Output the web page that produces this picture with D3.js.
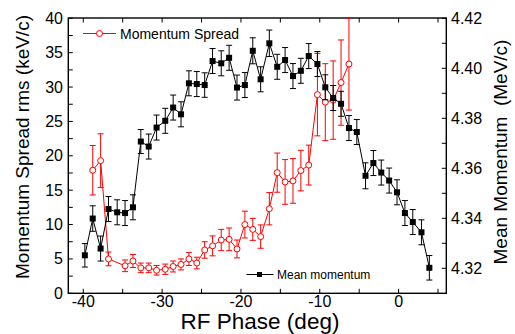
<!DOCTYPE html>
<html>
<head>
<meta charset="utf-8">
<script src="https://cdn.jsdelivr.net/npm/d3@7"></script>
<style>
  body { margin: 0; background: #fff; }
  svg { display: block; font-family: "Liberation Sans", Arial, sans-serif; }
</style>
</head>
<body>
<svg id="s" width="515" height="334"></svg>
<script>
// Data
const phase = [-39.8, -38.8, -37.8, -36.8, -35.7, -34.7, -33.7, -32.7, -31.7, -30.7,
  -29.6, -28.6, -27.6, -26.6, -25.6, -24.6, -23.6, -22.5, -21.5, -20.5,
  -19.5, -18.5, -17.5, -16.4, -15.4, -14.4, -13.4, -12.4, -11.4, -10.3,
  -9.3, -8.3, -7.3, -6.3, -5.3, -4.2, -3.2, -2.2, -1.2, -0.2,
  0.8, 1.8, 2.9, 3.9];
const meanMomentum = [4.3252, 4.3399, 4.3279, 4.3437, 4.3424, 4.3421, 4.3444, 4.3707, 4.3687, 4.3763,
  4.3790, 4.3843, 4.3816, 4.3940, 4.3937, 4.3933, 4.4029, 4.4020, 4.4042, 4.3923,
  4.3933, 4.4070, 4.3956, 4.4100, 4.4006, 4.4033, 4.3969, 4.3990, 4.4049, 4.4017,
  4.3924, 4.3881, 4.3858, 4.3761, 4.3745, 4.3570, 4.3621, 4.3583, 4.3551, 4.3504,
  4.3421, 4.3385, 4.3344, 4.3202];
const meanErr = [0.0047, 0.0051, 0.0050, 0.0050, 0.0050, 0.0050, 0.0050, 0.0048, 0.0050, 0.0050,
  0.0050, 0.0050, 0.0050, 0.0050, 0.0050, 0.0049, 0.0050, 0.0050, 0.0050, 0.0050,
  0.0050, 0.0052, 0.0050, 0.0053, 0.0050, 0.0050, 0.0050, 0.0050, 0.0050, 0.0050,
  0.0050, 0.0050, 0.0050, 0.0050, 0.0050, 0.0052, 0.0050, 0.0050, 0.0050, 0.0050,
  0.0050, 0.0050, 0.0050, 0.0049];
const spread = [null, 17.9, 19.3, 5.0, null, 4.0, 4.7, 3.7, 3.7, 3.35,
  3.5, 3.9, 4.2, 5.0, 4.4, 6.3, 6.9, 7.75, 7.85, 6.45,
  10.0, 9.3, 8.25, 12.3, 17.55, 16.2, 16.35, 17.85, 18.65, 28.9,
  27.8, 28.1, 30.65, 33.35, null, null, null, null, null, null,
  null, null, null, null];
const spreadErr = [null, 3.6, 3.9, 1.0, null, 0.85, 0.95, 0.7, 0.7, 0.7,
  0.75, 0.8, 0.8, 0.95, 0.85, 1.2, 1.45, 1.55, 1.65, 1.3,
  1.95, 1.6, 1.7, 2.35, 2.85, 3.25, 3.25, 2.95, 2.9, 6.0,
  5.6, 5.7, 6.2, 6.7, null, null, null, null, null, null,
  null, null, null, null];
const xTickLabels = [-40, -30, -20, -10, 0];
const leftTickLabels = [0, 5, 10, 15, 20, 25, 30, 35, 40];
const rightTickLabels = ["4.32", "4.34", "4.36", "4.38", "4.40", "4.42"];

const svg = d3.select("#s"),
  red = "#ff0000",
  x = d3.scaleLinear().domain([-41.9, 6.05]).range([68.3, 446.3]),
  yL = d3.scaleLinear().domain([0, 40]).range([293.3, 18.3]),
  yR = d3.scaleLinear().domain([4.31, 4.42]).range([293.3, 18.3]),
  [x0, x1] = x.range(),
  yBot = 293.3, yTop = 18,
  tickLen = 4.5;

const pts = phase.map((p, i) => ({p, m: meanMomentum[i], me: meanErr[i], s: spread[i], se: spreadErr[i]}));
const redPts = pts.filter(d => d.s !== null);

// Ticks (inward, all four sides)
const ticks = svg.append("g").attr("stroke", "#000").attr("stroke-width", 1);
d3.range(-40, 6, 5).forEach(v => {
  ticks.append("line").attr("x1", x(v)).attr("x2", x(v)).attr("y1", yBot).attr("y2", yBot - tickLen);
  ticks.append("line").attr("x1", x(v)).attr("x2", x(v)).attr("y1", yTop).attr("y2", yTop + tickLen);
});
d3.range(0, 40.1, 2.5).forEach(v => {
  ticks.append("line").attr("x1", x0).attr("x2", x0 + tickLen).attr("y1", yL(v)).attr("y2", yL(v));
});
d3.range(4.32, 4.4201, 0.01).forEach(v => {
  ticks.append("line").attr("x1", x1).attr("x2", x1 - tickLen).attr("y1", yR(v)).attr("y2", yR(v));
});

// Frame
svg.append("rect")
  .attr("x", x0).attr("y", yTop)
  .attr("width", x1 - x0).attr("height", yBot - yTop)
  .attr("fill", "none").attr("stroke", "#000").attr("stroke-width", 1.4);

// Tick labels
svg.append("g").selectAll("text").data(xTickLabels).join("text")
  .attr("x", d => x(d)).attr("y", 307)
  .attr("text-anchor", "middle").attr("font-size", 16)
  .text(d => d === 0 ? "0" : "-" + Math.abs(d));
svg.append("g").selectAll("text").data(leftTickLabels).join("text")
  .attr("x", 63).attr("y", d => yL(d) + 5.5)
  .attr("text-anchor", "end").attr("font-size", 16)
  .text(d => d);
svg.append("g").selectAll("text").data(rightTickLabels).join("text")
  .attr("x", 451).attr("y", d => yR(+d) + 5.5)
  .attr("font-size", 16)
  .text(d => d);

// Axis titles
svg.append("text")
  .attr("transform", "translate(29,147) rotate(-90)")
  .attr("text-anchor", "middle").attr("font-size", 19)
  .text("Momentum Spread rms (keV/c)");
svg.append("text")
  .attr("transform", "translate(507,152) rotate(-90)")
  .attr("text-anchor", "middle").attr("font-size", 19)
  .attr("xml:space", "preserve").style("white-space", "pre")
  .text("Mean Momentum  (MeV/c)");
svg.append("text")
  .attr("x", 260).attr("y", 329.2)
  .attr("text-anchor", "middle").attr("font-size", 22.5)
  .text("RF Phase (deg)");

// Error bars helper
const errBars = (g, data, xf, yf, lo, hi, color) => {
  const e = g.append("g").attr("stroke", color).attr("stroke-width", 1);
  data.forEach(d => {
    const cx = xf(d), a = yf(lo(d)), b = Math.max(yf(hi(d)), yTop);
    e.append("line").attr("x1", cx).attr("x2", cx).attr("y1", a).attr("y2", b);
    e.append("line").attr("x1", cx - 3).attr("x2", cx + 3).attr("y1", a).attr("y2", a);
    e.append("line").attr("x1", cx - 3).attr("x2", cx + 3).attr("y1", b).attr("y2", b);
  });
};

// Momentum spread (red, left axis)
const gRed = svg.append("g");
errBars(gRed, redPts, d => x(d.p), yL, d => d.s - d.se, d => d.s + d.se, red);
gRed.append("path")
  .attr("d", d3.line().x(d => x(d.p)).y(d => yL(d.s))(redPts))
  .attr("fill", "none").attr("stroke", red).attr("stroke-width", 1);
gRed.selectAll("circle").data(redPts).join("circle")
  .attr("cx", d => x(d.p)).attr("cy", d => yL(d.s)).attr("r", 3)
  .attr("fill", "#fff").attr("stroke", red).attr("stroke-width", 1);

// Mean momentum (black, right axis)
const gBlack = svg.append("g");
errBars(gBlack, pts, d => x(d.p), yR, d => d.m - d.me, d => d.m + d.me, "#000");
gBlack.append("path")
  .attr("d", d3.line().x(d => x(d.p)).y(d => yR(d.m))(pts))
  .attr("fill", "none").attr("stroke", "#000").attr("stroke-width", 1);
gBlack.selectAll("rect").data(pts).join("rect")
  .attr("x", d => x(d.p) - 3).attr("y", d => yR(d.m) - 3)
  .attr("width", 6).attr("height", 6).attr("fill", "#000");

// Legends
const lg1 = svg.append("g");
lg1.append("line").attr("x1", 83).attr("x2", 116).attr("y1", 33.5).attr("y2", 33.5)
  .attr("stroke", red).attr("stroke-width", 1);
lg1.append("circle").attr("cx", 99.5).attr("cy", 33.5).attr("r", 3)
  .attr("fill", "#fff").attr("stroke", red);
lg1.append("text").attr("x", 120).attr("y", 38.5).attr("font-size", 14).text("Momentum Spread");

const lg2 = svg.append("g");
lg2.append("line").attr("x1", 246.5).attr("x2", 273.5).attr("y1", 274.5).attr("y2", 274.5)
  .attr("stroke", "#000").attr("stroke-width", 1);
lg2.append("rect").attr("x", 257).attr("y", 272).attr("width", 5).attr("height", 5).attr("fill", "#000");
lg2.append("text").attr("x", 277).attr("y", 279).attr("font-size", 12).text("Mean momentum");
</script>
</body>
</html>
